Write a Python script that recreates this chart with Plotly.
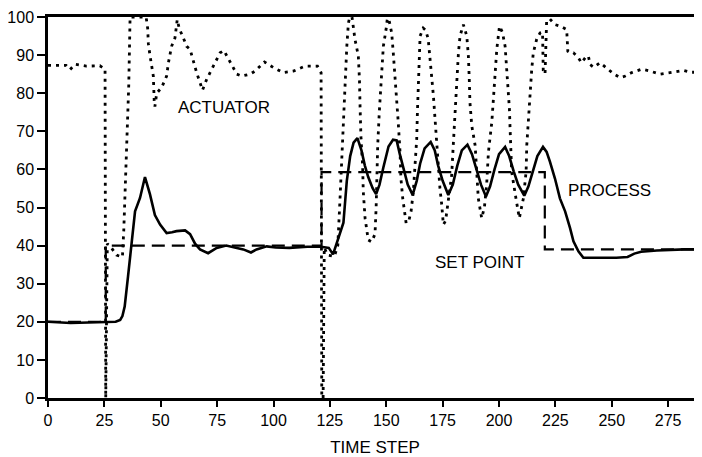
import plotly.graph_objects as go

# ---- data ----
setpoint_t = [0, 25.6, 25.6, 121.3, 121.3, 220.3, 220.3, 290]
setpoint_v = [20, 20, 40, 40, 59.3, 59.3, 39, 39]

process_t = [0, 10, 30, 32, 33, 34, 35.5, 37, 38.6, 40.8, 43, 45.2, 47.4, 49.7, 52.6, 55, 57,
             60.8, 63, 65.2, 67.4, 71, 74.8, 79, 83.7, 86.6, 90, 92.5, 97, 101, 107, 115, 121,
             124.5, 126.4, 129, 131, 132.5, 134, 135.5, 137.2, 139, 140.5, 142, 144, 145.5, 147,
             148.7, 151, 153, 154.6, 156, 157.6, 159.5, 161.7, 163.5, 165, 167, 169.7, 171.5, 173,
             175, 177.5, 179.5, 181.5, 183.5, 186, 188, 190, 192, 194.2, 196, 198, 200, 202.7,
             204.5, 206.5, 208.5, 211.2, 213, 215, 217, 219.5, 221.1, 222.6, 224.8, 227, 229.3,
             231.5, 233, 235.2, 237.4, 245, 252, 257, 260, 263, 270, 282, 290]
process_v = [20, 19.7, 20, 20.5, 21.5, 24, 32, 40, 49, 52.5, 58, 53.5, 48, 45.5, 43.3, 43.5, 43.8,
             44, 43, 40.5, 39, 38, 39.4, 40, 39.4, 39, 38.2, 39, 39.8, 39.5, 39.4, 39.7, 39.7,
             39.4, 37.7, 42.5, 46, 57, 63.5, 67, 68.2, 65, 61, 58, 55, 53.5, 56,
             60.5, 66, 67.8, 67.6, 64, 60, 56, 53.3, 57, 61.5, 65.5, 67.2, 65, 61,
             57, 53.3, 56, 61, 65, 66.5, 64, 60, 56, 52.9, 55.5, 60, 64, 65.9,
             63.5, 59.5, 56, 53.1, 55.5, 59.5, 63.5, 65.9, 64.6, 62, 57.6, 52.4, 49,
             44.6, 41.1, 38.5, 36.8, 36.8, 36.8, 37, 37.9, 38.4, 38.7, 39, 39]

actuator_t = [0, 8, 9.8, 12, 17, 23, 25.3, 25.6, 26.3, 28, 30.4, 33, 33.6, 34.6, 35.3, 35.8, 36.4,
              43.5, 44.2, 44.5, 45.2, 46, 46.7, 47.1, 47.4, 48.2, 50.4, 52.6, 53.4, 54.8, 56.3,
              57.3, 58.2, 60, 61.5, 63, 64.4, 65.9, 67.4, 68.5, 70.4, 73.3, 76.3, 78, 80, 81.5,
              83.7, 85.9, 89.6, 91.8, 96, 100, 104.3, 108.8, 114, 119.5, 121.1, 121.4, 122,
              122.5, 124, 127, 128.5, 129.5, 130.2, 131, 131.7, 132.5, 133.2, 133.8, 134.8,
              135.4, 136.1, 137.6, 138.1, 138.4, 138.8, 139.5, 139.8, 140.6, 142, 143.5, 145,
              145.5, 145.8, 146.2, 146.9, 147.7, 148.7, 149.9, 150.5, 151.3, 152.4, 153.1,
              153.9, 154.6, 155.3, 156.1, 156.5, 157.3, 158.8, 160, 161, 162, 162.7, 163.5,
              163.8, 164.2, 164.5, 165, 166.4, 167.5, 168.6, 169.4, 170.1, 170.9, 171.6, 172.4,
              173, 173.8, 174.6, 175.3, 176.3, 177.5, 179, 179.7, 180.5, 181.2, 182, 182.7,
              184.2, 185.7, 186.4, 186.8, 187.1, 187.9, 189.4, 190.1, 190.8, 192.3, 193.5,
              194.5, 195.3, 196.8, 197.5, 198.2, 199, 200.2, 201.5, 202.7, 203.4, 204.1, 204.6,
              204.9, 205.2, 205.6, 207.5, 209, 210.8, 212, 212.3, 213, 213.7, 214.5, 215.2,
              216.7, 218.2, 219.3, 219.6, 220.4, 221.1, 222.5, 224.8, 227.5, 230, 230.5, 231.5,
              233, 235.2, 236.5, 238.5, 239.6, 240.4, 242, 244.8, 248.5, 251, 253.7, 256,
              258.8, 263.3, 267, 271.4, 275.8, 281.7, 285, 290]
actuator_v = [87.3, 87.3, 86.2, 87.6, 87.1, 87.2, 86.3, 0, 40.5, 39.5, 37.5, 37, 44, 60, 74, 82, 100,
              100, 97, 93, 90, 87, 84.5, 78, 76.5, 80, 81.5, 84.5, 88, 92.3, 94.5,
              99.3, 97, 94.5, 92.3, 91.5, 88.5, 85.4, 82.8, 80.8, 83.7, 87.1, 90.6, 91.2, 89, 87.1,
              85, 84.5, 85, 85.8, 88.2, 86.7, 85.4, 85.8, 87.1, 87.1, 85.4, 0, 0,
              39.5, 37.5, 37.2, 40, 52.4, 62.8, 72.4, 82, 92.3, 98.4, 100, 100,
              97.6, 94.2, 89.8, 83.7, 75.9, 68, 61.1, 54.2, 47.2, 41.5, 41, 43,
              50, 57.6, 66.3, 75, 83.7, 92.3, 96.7, 99.7, 99, 95.8, 90.6,
              84.5, 79.3, 72.4, 64.6, 57.6, 52.4, 45.9, 46.5, 49, 54.2, 61.1, 68,
              75, 83.7, 90.6, 95, 97.1, 96.5, 94.2, 89.8, 84.5, 79.3, 73.3, 66.3,
              60.2, 55, 50.7, 45.5, 46.5, 51.6, 58.5, 66.3, 75, 83.7, 90.6, 95,
              98, 95, 89.8, 83.7, 77.6, 71.5, 66.3, 59.4, 52.4, 47.2, 50,
              55.9, 64.6, 72.4, 78.5, 87.1, 91.5, 97.6, 96, 92.3, 87.1, 82, 75.9,
              70.7, 64.6, 59.4, 52.4, 47.2, 52.4, 59.4, 66.3, 73.3, 79.3, 86.3, 90.6,
              94.2, 95.8, 96, 86, 85, 98.9, 99.5, 98, 97.5, 96.7, 91, 90.6,
              90.6, 89.3, 88, 89.5, 89.8, 87.5, 86.8, 88, 86.3, 85, 84.1, 84.5,
              85.4, 86.3, 85.8, 85, 85.4, 86, 85.5, 85.5]

x_ticks = [0, 25, 50, 75, 100, 125, 150, 175, 200, 225, 250, 275]
y_ticks = [0, 10, 20, 30, 40, 50, 60, 70, 80, 90, 100]

labels = ["ACTUATOR", "PROCESS", "SET POINT"]
label_x = [78, 249, 191.5]
label_y = [76.3, 54.5, 35.5]

FONT = "Liberation Sans, Arial, sans-serif"

fig = go.Figure()
fig.add_trace(go.Scatter(x=actuator_t, y=actuator_v, mode="lines", name="Actuator",
                         line=dict(color="black", width=2.8, dash="3px,5px")))
fig.add_trace(go.Scatter(x=setpoint_t, y=setpoint_v, mode="lines", name="Set point",
                         line=dict(color="black", width=2.2, dash="13px,7px")))
fig.add_trace(go.Scatter(x=process_t, y=process_v, mode="lines", name="Process",
                         line=dict(color="black", width=2.6)))

for txt, lx, ly in zip(labels, label_x, label_y):
    fig.add_annotation(x=lx, y=ly, text=txt, showarrow=False,
                       font=dict(family=FONT, size=17, color="black"))

# page has an 8px body margin, so the figure is 8px smaller and margins shifted
fig.update_layout(
    width=694, height=449,
    margin=dict(l=40, r=0, t=9, b=59),
    paper_bgcolor="white", plot_bgcolor="white",
    showlegend=False,
    font=dict(family=FONT, color="black"),
    xaxis=dict(range=[0, 290], tickvals=x_ticks, ticks="outside", ticklen=6, tickwidth=2,
               tickcolor="black", showline=True, linecolor="black", linewidth=2.5,
               mirror=True, showgrid=False, zeroline=False, automargin=False,
               ticklabeloverflow="allow",
               tickfont=dict(family=FONT, size=16, color="black"),
               title=dict(text="TIME STEP", font=dict(family=FONT, size=17, color="black"),
                          standoff=16)),
    yaxis=dict(range=[0, 100], tickvals=y_ticks, ticks="outside", ticklen=8, tickwidth=2,
               tickcolor="black", showline=True, linecolor="black", linewidth=2.5,
               showgrid=False, zeroline=False, automargin=False,
               ticklabeloverflow="allow",
               tickfont=dict(family=FONT, size=16, color="black")),
)

fig.write_html("out.html")
